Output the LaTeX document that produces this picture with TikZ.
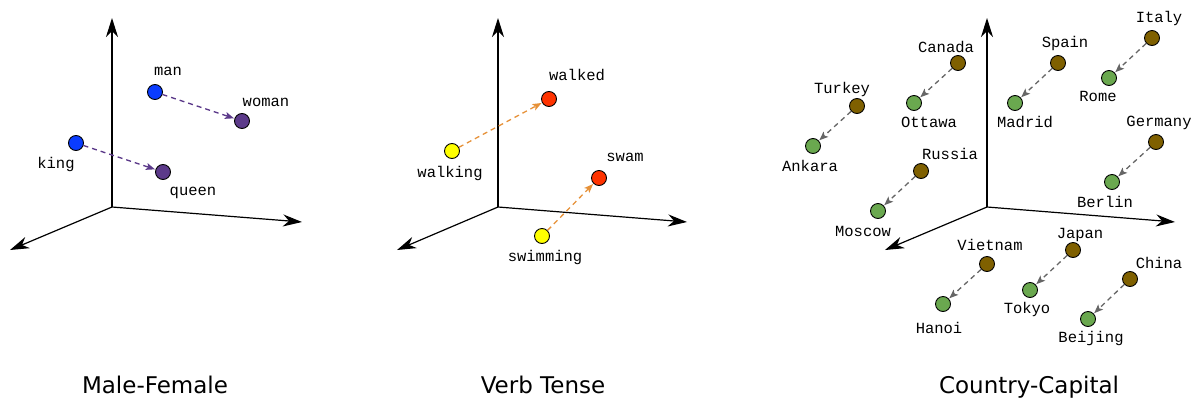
\documentclass[tikz,border=0pt]{standalone}
\usepackage{fontspec}
\setmainfont{DejaVu Sans}
\newfontfamily\monofont{Liberation Mono}
\usetikzlibrary{arrows.meta}
\definecolor{cblue}{HTML}{0A3CFF}
\definecolor{cpurple}{HTML}{5C3A8A}
\definecolor{cred}{HTML}{FF3300}
\definecolor{cyellow}{HTML}{FFFF00}
\definecolor{corange}{HTML}{E69138}
\definecolor{cgreen}{HTML}{6AA84F}
\definecolor{cbrown}{HTML}{7F6000}
\definecolor{cgray}{HTML}{666666}
\begin{document}
\begin{tikzpicture}[x=1pt,y=-1pt,
  axis/.style={line width=1.2pt, -{Stealth[length=19pt,width=12pt,inset=6pt]}},
  dot/.style={circle, draw=black, line width=0.9pt, minimum size=15pt, inner sep=0pt},
  lbl/.style={anchor=base, font=\monofont\fontsize{15.5}{16}\selectfont, inner sep=0pt},
  vec/.style={dash pattern=on 5pt off 4pt, line width=1.3pt, -{Stealth[length=9pt,width=7pt,inset=2pt]}, shorten >=0.5pt},
  ptitle/.style={anchor=base, font=\fontsize{23}{26}\selectfont, inner sep=0pt}]
\useasboundingbox (0,0) rectangle (1193,399);

% ---------- Panel 1: Male-Female ----------
\coordinate (o1) at (112,207);
\coordinate (u1) at (112,18);
\coordinate (r1) at (302,222);
\coordinate (l1) at (10,250);
\draw[axis] (o1) -- (u1);
\draw[axis] (o1) -- (r1);
\draw[axis] (o1) -- (l1);
\node[dot, fill=cblue] (man) at (155,92) {};
\node[dot, fill=cpurple] (woman) at (242,121) {};
\node[dot, fill=cblue] (king) at (76,143) {};
\node[dot, fill=cpurple] (queen) at (163,172) {};
\draw[vec, cpurple] (man) -- (woman);
\draw[vec, cpurple] (king) -- (queen);
\node[lbl] (tman) at (168,75) {man};
\node[lbl] (twoman) at (266,106) {woman};
\node[lbl] (tking) at (56,168) {king};
\node[lbl] (tqueen) at (193,195) {queen};
\node[ptitle] (t1) at (155,393) {Male-Female};

% ---------- Panel 2: Verb Tense ----------
\coordinate (o2) at (498,207);
\coordinate (u2) at (498,18);
\coordinate (r2) at (687,222);
\coordinate (l2) at (397,250);
\draw[axis] (o2) -- (u2);
\draw[axis] (o2) -- (r2);
\draw[axis] (o2) -- (l2);
\node[dot, fill=cred] (walked) at (549,99) {};
\node[dot, fill=cyellow] (walking) at (452,151) {};
\node[dot, fill=cred] (swam) at (599,178) {};
\node[dot, fill=cyellow] (swimming) at (542,236) {};
\draw[vec, corange] (walking) -- (walked);
\draw[vec, corange] (swimming) -- (swam);
\node[lbl] (twalked) at (577,80) {walked};
\node[lbl] (twalking) at (450,177) {walking};
\node[lbl] (tswam) at (625,161) {swam};
\node[lbl] (tswimming) at (545,261) {swimming};
\node[ptitle] (t2) at (543,393) {Verb Tense};

% ---------- Panel 3: Country-Capital ----------
\coordinate (o3) at (987,207);
\coordinate (u3) at (987,18);
\coordinate (r3) at (1175,222);
\coordinate (l3) at (885,250);
\draw[axis] (o3) -- (u3);
\draw[axis] (o3) -- (r3);
\draw[axis] (o3) -- (l3);
\foreach \cn/\cx/\cy/\kn/\kx/\ky in {
  canada/958/63/ottawa/914/103,
  turkey/857/106/ankara/813/146,
  spain/1058/63/madrid/1015/103,
  italy/1152/38/rome/1109/78,
  germany/1156/142/berlin/1112/182,
  russia/921/171/moscow/878/211,
  vietnam/987/264/hanoi/943/304,
  japan/1073/250/tokyo/1030/290,
  china/1130/279/beijing/1088/319}{
  \node[dot, fill=cbrown] (\cn) at (\cx,\cy) {};
  \node[dot, fill=cgreen] (\kn) at (\kx,\ky) {};
  \draw[vec, cgray] (\cn) -- (\kn);
}
\node[lbl] (tcanada) at (946,52) {Canada};
\node[lbl] (tottawa) at (929,127) {Ottawa};
\node[lbl] (tturkey) at (842,93) {Turkey};
\node[lbl] (tankara) at (810,171) {Ankara};
\node[lbl] (tspain) at (1065,47) {Spain};
\node[lbl] (tmadrid) at (1025,127) {Madrid};
\node[lbl] (titaly) at (1159,22) {Italy};
\node[lbl] (trome) at (1098,101) {Rome};
\node[lbl] (tgermany) at (1159,126) {Germany};
\node[lbl] (tberlin) at (1105,207) {Berlin};
\node[lbl] (trussia) at (950,159) {Russia};
\node[lbl] (tmoscow) at (863,236) {Moscow};
\node[lbl] (tvietnam) at (990,250) {Vietnam};
\node[lbl] (thanoi) at (939,333) {Hanoi};
\node[lbl] (tjapan) at (1080,238) {Japan};
\node[lbl] (ttokyo) at (1027,313) {Tokyo};
\node[lbl] (tchina) at (1159,268) {China};
\node[lbl] (tbeijing) at (1091,342) {Beijing};
\node[ptitle] (t3) at (1029,393) {Country-Capital};
\end{tikzpicture}
\end{document}
